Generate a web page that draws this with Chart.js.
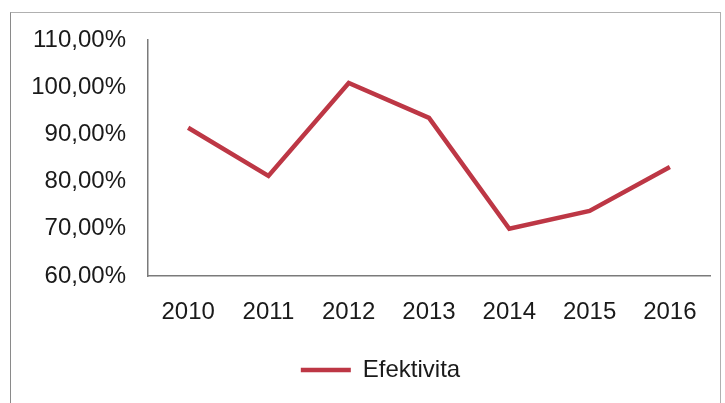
<!DOCTYPE html>
<html>
<head>
<meta charset="utf-8">
<script src="https://cdn.jsdelivr.net/npm/chart.js@4/dist/chart.umd.min.js"></script>
<style>
  html, body { margin: 0; padding: 0; background: #fff; }
  #frame {
    position: absolute; left: 10px; top: 12px; width: 709px; height: 391px;
    border-left: 1px solid #8a8a8a; border-top: 1px solid #b0b0b0; border-right: 1px solid #b0b0b0;
  }
  #wrap { position: absolute; left: 0; top: 0; width: 709px; height: 391px; }
</style>
</head>
<body>
<div id="frame"><div id="wrap"><canvas id="chart"></canvas></div></div>
<script>
// data
const years = ['2010', '2011', '2012', '2013', '2014', '2015', '2016'];
const efektivita = [91.4, 81.2, 100.9, 93.5, 70.0, 73.8, 83.1];
const yTicks = [60, 70, 80, 90, 100, 110];

const red = '#bd3745';
const fontFamily = "'Liberation Sans', sans-serif";

Chart.defaults.font.family = fontFamily;
Chart.defaults.color = '#1a1a1a';

// legend sits a bit right of centre in the original
const legendShift = {
  id: 'legendShift',
  afterLayout(chart) {
    chart.legend.left += 20;
    chart.legend.right += 20;
  }
};

var ctx = document.getElementById('chart').getContext('2d');
var chart = new Chart(ctx, {
  type: 'line',
  data: {
    labels: years,
    datasets: [{
      label: 'Efektivita',
      data: efektivita,
      borderColor: red,
      backgroundColor: red,
      borderWidth: 4.5,
      pointRadius: 0,
      tension: 0
    }]
  },
  options: {
    responsive: true,
    maintainAspectRatio: false,
    animation: false,
    events: [],
    layout: { padding: { top: 27, right: 10, left: 0, bottom: 12 } },
    scales: {
      x: {
        offset: true,
        grid: { display: false, drawTicks: false },
        border: { color: '#7a7a7a', width: 1.5 },
        ticks: { font: { size: 24 }, padding: 22, maxRotation: 0 },
        afterFit: function (s) { s.height = 72; }
      },
      y: {
        min: 60,
        max: 110,
        afterBuildTicks: function (s) { s.ticks = yTicks.map(v => ({ value: v })); },
        grid: { display: false, drawTicks: false },
        border: { color: '#7a7a7a', width: 1.5 },
        ticks: {
          font: { size: 24 },
          padding: 22,
          callback: function (v) { return v + ',00%'; }
        },
        afterFit: function (s) {
          s.width = 137;
          s.paddingTop = 0;
          s.paddingBottom = 0;
        }
      }
    },
    plugins: {
      legend: {
        position: 'bottom',
        labels: {
          usePointStyle: true,
          pointStyle: 'line',
          pointStyleWidth: 50,
          boxHeight: 4,
          font: { size: 24 },
          padding: 10
        }
      },
      tooltip: { enabled: false }
    }
  },
  plugins: [legendShift]
});
</script>
</body>
</html>
